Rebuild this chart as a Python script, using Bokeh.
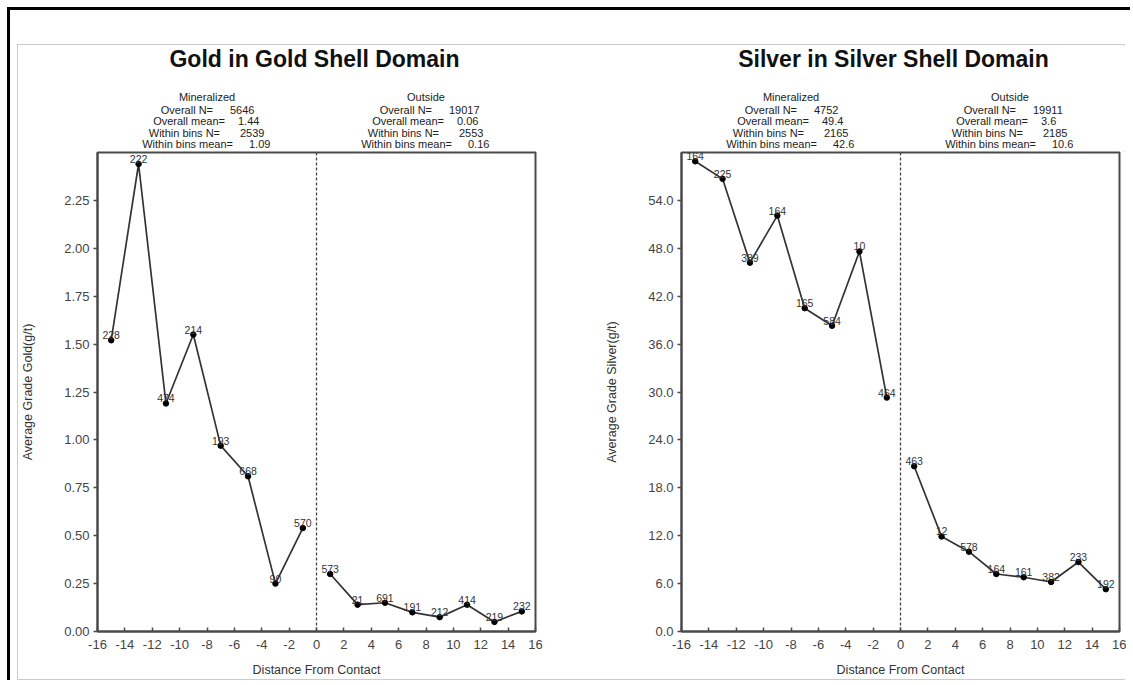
from bokeh.plotting import figure
from bokeh.layouts import row, column
from bokeh.models import Span, FixedTicker, NumeralTickFormatter, Range1d
from bokeh.embed import file_html
from bokeh.resources import INLINE
from bokeh.core.properties import value

# ---------------- data ----------------
distance = [-15, -13, -11, -9, -7, -5, -3, -1, 1, 3, 5, 7, 9, 11, 13, 15]
gold_grade = [1.52, 2.44, 1.19, 1.55, 0.97, 0.81, 0.25, 0.54,
              0.30, 0.14, 0.15, 0.10, 0.075, 0.14, 0.05, 0.105]
gold_counts = [228, 222, 474, 214, 193, 668, 90, 570,
               573, 21, 691, 191, 212, 414, 219, 232]
silver_grade = [58.9, 56.7, 46.2, 52.1, 40.5, 38.3, 47.6, 29.3,
                20.7, 11.9, 10.0, 7.2, 6.8, 6.2, 8.7, 5.3]
silver_counts = [164, 225, 389, 164, 165, 584, 10, 464,
                 463, 12, 578, 164, 161, 382, 233, 192]

x_ticks = [-16, -14, -12, -10, -8, -6, -4, -2, 0, 2, 4, 6, 8, 10, 12, 14, 16]
gold_y_ticks = [0.0, 0.25, 0.5, 0.75, 1.0, 1.25, 1.5, 1.75, 2.0, 2.25]
silver_y_ticks = [0, 6, 12, 18, 24, 30, 36, 42, 48, 54]

stat_labels = ["Overall N=", "Overall mean=", "Within bins N=", "Within bins mean="]
group_names = ["Mineralized", "Outside"]
gold_min_stats = ["5646", "1.44", "2539", "1.09"]
gold_out_stats = ["19017", "0.06", "2553", "0.16"]
silver_min_stats = ["4752", "49.4", "2165", "42.6"]
silver_out_stats = ["19911", "3.6", "2185", "10.6"]

FONT = "Liberation Sans"
FRAME_W, FRAME_H = 438, 479
HEADER_H = 106
GAP_TOP = 1
# screen offsets (px) of label right edge / value left edge from block centre
LABEL_DX = [6, 18, 13, 26]
VALUE_DX = [23, 31, 33, 42]
# vertical centres (px above the chart frame top) of the header lines
TITLE_MID = 94
STAT_MIDS = [55.5, 43, 31.5, 20, 8.5]


def make_header(title, stats_min, stats_out, border_left, border_right, title_dx):
    h = figure(title=None, frame_width=FRAME_W, frame_height=HEADER_H,
               x_range=Range1d(-16, 16), y_range=Range1d(0, HEADER_H),
               x_axis_location=None, y_axis_location=None,
               output_backend="svg", toolbar_location=None,
               min_border_left=border_left, min_border_right=border_right,
               min_border_top=0, min_border_bottom=0)
    h.grid.visible = False
    h.outline_line_color = None
    h.background_fill_color = "white"
    h.border_fill_color = "white"
    h.text([0], [TITLE_MID - GAP_TOP], text=[title], x_offset=title_dx,
           text_font=value(FONT), text_font_size="23px", text_font_style="bold",
           text_color="#111111", text_align="center", text_baseline="middle")
    for cx, name, vals in ((-8, group_names[0], stats_min), (8, group_names[1], stats_out)):
        h.text([cx], [STAT_MIDS[0] - GAP_TOP], text=[name],
               text_font=value(FONT), text_font_size="11px", text_color="#222222",
               text_align="center", text_baseline="middle")
        for i, (lab, val) in enumerate(zip(stat_labels, vals)):
            yy = STAT_MIDS[i + 1] - GAP_TOP
            h.text([cx], [yy], text=[lab], x_offset=LABEL_DX[i],
                   text_font=value(FONT), text_font_size="11px", text_color="#222222",
                   text_align="right", text_baseline="middle")
            h.text([cx], [yy], text=[val], x_offset=VALUE_DX[i],
                   text_font=value(FONT), text_font_size="11px", text_color="#222222",
                   text_align="left", text_baseline="middle")
    return h


def make_chart(ylabel, grade, counts, ymax, yticks, yfmt, border_left, border_right):
    p = figure(title=None, frame_width=FRAME_W, frame_height=FRAME_H,
               x_range=Range1d(-16, 16), y_range=Range1d(0, ymax),
               output_backend="svg", toolbar_location=None,
               min_border_left=border_left, min_border_right=border_right,
               min_border_top=GAP_TOP, min_border_bottom=46)
    p.grid.visible = False
    p.background_fill_color = "white"
    p.border_fill_color = "white"
    p.outline_line_color = "#4a4a4a"
    p.outline_line_width = 2

    p.xaxis.ticker = FixedTicker(ticks=x_ticks)
    p.xaxis.formatter = NumeralTickFormatter(format="0")
    p.yaxis.ticker = FixedTicker(ticks=yticks)
    p.yaxis.formatter = NumeralTickFormatter(format=yfmt)
    for ax in (p.xaxis[0], p.yaxis[0]):
        ax.axis_line_color = "#4a4a4a"
        ax.axis_line_width = 2
        ax.major_tick_line_color = "#4a4a4a"
        ax.major_tick_line_width = 1.5
        ax.minor_tick_line_color = None
        ax.major_label_text_font = FONT
        ax.major_label_text_font_size = "13px"
        ax.major_label_text_color = "#444444"
        ax.major_label_text_line_height = 1.0
        ax.axis_label_text_font = FONT
        ax.axis_label_text_font_size = "12.5px"
        ax.axis_label_text_font_style = "normal"
        ax.axis_label_text_color = "#333333"
        ax.axis_label_text_line_height = 1.0
    p.xaxis.major_tick_in = 4
    p.xaxis.major_tick_out = 0
    p.xaxis.major_label_standoff = 8
    p.xaxis.axis_label = "Distance From Contact"
    p.xaxis.axis_label_standoff = 11
    p.yaxis.major_tick_in = 0
    p.yaxis.major_tick_out = 4
    p.yaxis.major_label_standoff = 4
    p.yaxis.axis_label = ylabel
    p.yaxis.axis_label_standoff = 26

    p.add_layout(Span(location=0, dimension="height", line_color="#444444",
                      line_width=1.3, line_dash="3 2"))

    xin = [d for d in distance if d < 0]
    yin = [g for d, g in zip(distance, grade) if d < 0]
    xout = [d for d in distance if d > 0]
    yout = [g for d, g in zip(distance, grade) if d > 0]
    for xs, ys in ((xin, yin), (xout, yout)):
        p.line(xs, ys, line_color="#333333", line_width=1.7)
    p.scatter(distance, grade, size=5.5, fill_color="black", line_color="black")
    p.text(distance, grade, text=[str(c) for c in counts],
           text_font=value(FONT), text_font_size="10.5px", text_color="#333333",
           text_align="center", text_baseline="bottom", y_offset=-1)
    return p


h1 = make_header("Gold in Gold Shell Domain", gold_min_stats, gold_out_stats, 79, 25, -2)
c1 = make_chart("Average Grade Gold(g/t)", gold_grade, gold_counts, 2.5, gold_y_ticks,
                "0.00", 79, 25)
h2 = make_header("Silver in Silver Shell Domain", silver_min_stats, silver_out_stats,
                 121, 7, -7)
c2 = make_chart("Average Grade Silver(g/t)", silver_grade, silver_counts, 60, silver_y_ticks,
                "0.0", 121, 7)

inner = row(column(h1, c1), column(h2, c2),
            styles={"border": "1px solid #cccccc", "background-color": "white"})
framed = row(inner, styles={"border-top": "3px solid black", "border-left": "3px solid black",
                            "padding": "34px 5px 0px 7px", "background-color": "white"})
outer = row(framed, styles={"padding": "7px 0px 0px 7px", "background-color": "white",
                            "overflow": "hidden", "box-sizing": "border-box",
                            "width": "1130px", "height": "682px"})

open("out.html", "w").write(file_html(outer, INLINE))
